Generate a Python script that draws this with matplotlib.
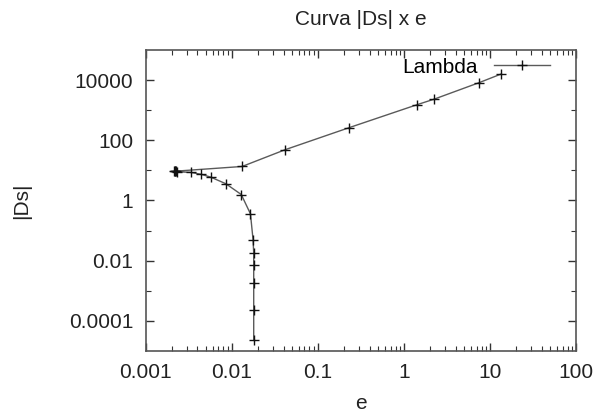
import matplotlib.pyplot as plt
from matplotlib.ticker import LogLocator, FixedLocator, NullFormatter, FixedFormatter

plt.rcParams['font.family'] = ['Liberation Sans', 'DejaVu Sans']

# data (log-log curve)
e_vals = [0.018, 0.018, 0.018, 0.018, 0.018, 0.0177, 0.0165, 0.0129, 0.00855,
          0.00568, 0.00442, 0.00333, 0.0023, 0.00225, 0.0022, 0.00215, 0.0022,
          0.0132, 0.042, 0.233, 1.42, 2.25, 7.55, 13.4]
ds_vals = [2.4e-5, 2.3e-4, 1.75e-3, 7e-3, 1.8e-2, 4.9e-2, 0.36, 1.58, 3.6,
           6.0, 7.4, 8.6, 9.0, 9.3, 9.5, 9.6, 9.4,
           13.5, 49, 265, 1520, 2330, 8300, 15800]

x_ticks = [0.001, 0.01, 0.1, 1, 10, 100]
x_labels = ["0.001", "0.01", "0.1", "1", "10", "100"]
y_ticks = [1e-4, 1e-2, 1, 1e2, 1e4]
y_labels = ["0.0001", "0.01", "1", "100", "10000"]

fig = plt.figure(figsize=(5.98, 4.17), dpi=100)
ax = fig.add_axes([0.2436, 0.1583, 0.7196, 0.7218])

ax.plot(e_vals, ds_vals, color="#5a5a5a", lw=1, marker="+", ms=6.5,
        mec="#111111", mew=1, label="Lambda")

ax.set_xscale("log")
ax.set_yscale("log")
ax.set_xlim(0.001, 100)
ax.set_ylim(1e-5, 1e5)

ax.xaxis.set_major_locator(FixedLocator(x_ticks))
ax.xaxis.set_major_formatter(FixedFormatter(x_labels))
ax.xaxis.set_minor_locator(LogLocator(base=10, subs=range(2, 10), numticks=20))
ax.xaxis.set_minor_formatter(NullFormatter())

ax.yaxis.set_major_locator(FixedLocator(y_ticks))
ax.yaxis.set_major_formatter(FixedFormatter(y_labels))
ax.yaxis.set_minor_locator(FixedLocator([1e-3, 1e-1, 10, 1e3]))
ax.yaxis.set_minor_formatter(NullFormatter())

ax.tick_params(which="both", direction="in", top=True, right=True,
               labelsize=15, colors="#333333", labelcolor="#222222")
ax.tick_params(which="major", length=6, width=1, pad=9)
ax.tick_params(which="minor", length=3.5, width=0.8)
for s in ax.spines.values():
    s.set_color("#555555")
    s.set_linewidth(1.2)

ax.set_title("Curva |Ds| x e", fontsize=15, color="#222222", pad=18)
ax.set_xlabel("e", fontsize=15, color="#222222", labelpad=8)
ax.set_ylabel("|Ds|", fontsize=15, color="#222222", labelpad=27)

ax.legend(loc="upper right", bbox_to_anchor=(0.94, 0.975), frameon=False,
          markerfirst=False, fontsize=15, handlelength=2.7, borderpad=0,
          borderaxespad=0, handletextpad=0.8)

fig.savefig("out.png", dpi=100)
plt.close(fig)
